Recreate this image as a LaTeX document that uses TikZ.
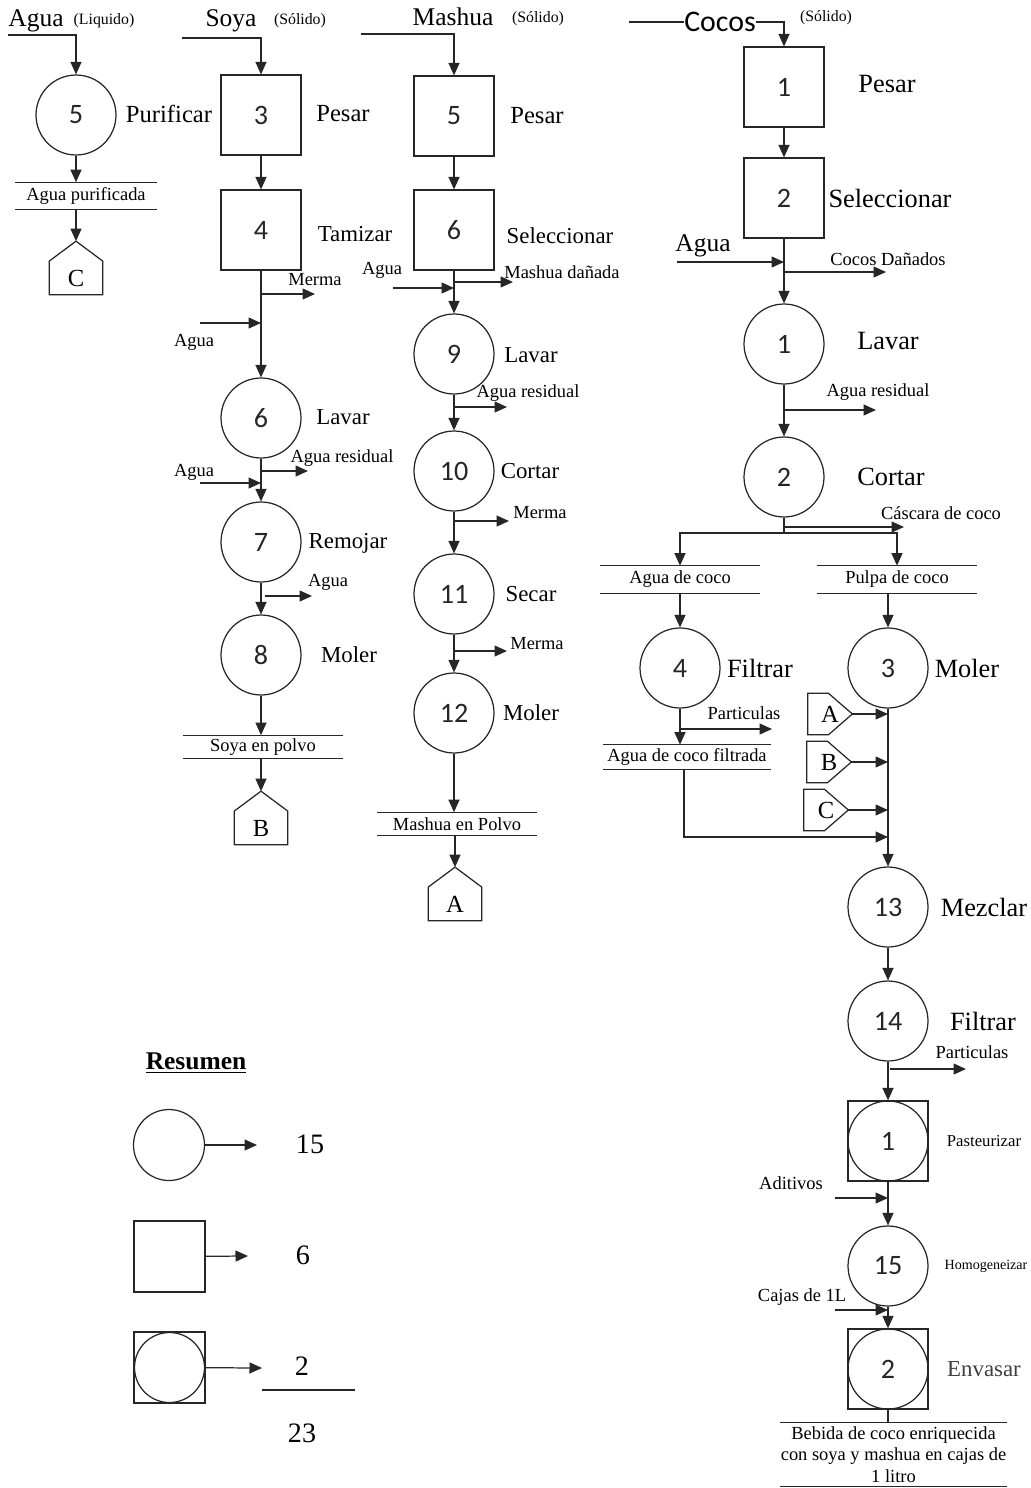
\documentclass[tikz,border=0pt]{standalone}
\usepackage{fontspec}
\setmainfont{Liberation Serif}
\newfontfamily\numfont{Carlito}
\usetikzlibrary{arrows.meta}
\tikzset{
	>={Triangle[length=2.5mm,width=2.2mm]},
	wire/.style={black!85, line width=0.7pt},
	flow/.style={wire, ->},
	op/.style={wire, draw, circle, minimum size=1.6cm, inner sep=0pt, font=\numfont\fontsize{16}{18}\selectfont},
	insp/.style={wire, draw, rectangle, minimum size=1.6cm, inner sep=0pt, font=\numfont\fontsize{16}{18}\selectfont},
	term/.style={inner sep=0pt, minimum width=1.06cm, minimum height=0.66cm, font=\fontsize{14}{16}\selectfont},
	termin/.style={term, minimum width=0.88cm, minimum height=0.82cm},
	stock/.style={inner sep=0pt, font=\fontsize{10.5}{12.5}\selectfont},
	task/.style={font=\fontsize{13}{15}\selectfont},
	bigtask/.style={font=\fontsize{15}{17}\selectfont},
	note/.style={font=\fontsize{10.5}{12}\selectfont},
	head/.style={font=\fontsize{14.5}{16}\selectfont},
	matter/.style={font=\fontsize{9}{11}\selectfont},
	legnum/.style={font=\fontsize{16}{18}\selectfont}
}

\begin{document}
\begin{tikzpicture}[x=0.02cm, y=-0.02cm]
	\useasboundingbox (0,0) rectangle (1031,1488);
	
	% Agua
	\node[head] (agua) at (36,21) {Agua};
	\node[matter] (aguast) at (104,21) {(Liquido)};
	\node[op] (a5) at (76,115) {5};
	\node[task, font=\fontsize{14}{16}\selectfont] (a5t) at (169,114) {Purificar};
	\node[stock, minimum width=2.82cm, minimum height=0.54cm] (agp) at (86,196) {Agua purificada};
	\node[term] (hc) at (76,278) {C};
	\coordinate (aguain) at (8,35);
	\draw[flow] (aguain) -| (a5.north);
	\draw[flow] (a5.south) -- (a5.south |- agp.north);
	\draw[wire] (agp.north west) -- (agp.north east);
	\draw[wire] (agp.south west) -- (agp.south east);
	\draw[flow] (a5.south |- agp.south) -- ([yshift=0.4cm]hc.north);
	\draw[wire] (hc.south west) -- (hc.north west) -- ([yshift=0.4cm]hc.north) -- (hc.north east) -- (hc.south east) -- cycle;
	
	% Soya
	\node[head] (soya) at (231,21) {Soya};
	\node[matter] (soyast) at (300,21) {(Sólido)};
	\node[insp] (s3) at (261,115) {3};
	\node[task, font=\fontsize{14}{16}\selectfont] (s3t) at (343,114) {Pesar};
	\node[insp] (s4) at (261,230) {4};
	\node[task] (s4t) at (355,234) {Tamizar};
	\node[op] (s6) at (261,418) {6};
	\node[task] (s6t) at (343,417) {Lavar};
	\node[op] (s7) at (261,542) {7};
	\node[task] (s7t) at (348,543) {Remojar};
	\node[op] (s8) at (261,655) {8};
	\node[task] (s8t) at (349,655) {Moler};
	\node[stock, minimum width=3.2cm, minimum height=0.46cm] (sep) at (263,747) {Soya en polvo};
	\node[term] (hb) at (261,828) {B};
	\coordinate (soyain) at (182,38);
	\draw[flow] (soyain) -| (s3.north);
	\draw[flow] (s3) -- (s4);
	\draw[flow] (s4) -- (s6);
	\coordinate (s4m) at (261,294);
	\coordinate (s4me) at (315,294);
	\draw[flow] (s4m) -- (s4me);
	\node[note] (s4mt) at (315,280) {Merma};
	\coordinate (s6a) at (200,323);
	\draw[flow] (s6a) -- (s6a -| s4);
	\node[note] (s6at) at (194,342) {Agua};
	\draw[flow] (s6) -- (s7);
	\coordinate (s6r) at (261,471);
	\coordinate (s6re) at (308,471);
	\draw[flow] (s6r) -- (s6re);
	\node[note] (s6rt) at (342,458) {Agua residual};
	\coordinate (s7a) at (200,483);
	\draw[flow] (s7a) -- (s7a -| s6);
	\node[note] (s7at) at (194,472) {Agua};
	\draw[flow] (s7) -- (s8);
	\coordinate (s7r) at (265,596);
	\coordinate (s7re) at (312,596);
	\draw[flow] (s7r) -- (s7re);
	\node[note] (s7rt) at (328,582) {Agua};
	\draw[flow] (s8) -- (s8 |- sep.north);
	\draw[wire] (sep.north west) -- (sep.north east);
	\draw[wire] (sep.south west) -- (sep.south east);
	\draw[flow] (s8 |- sep.south) -- ([yshift=0.4cm]hb.north);
	\draw[wire] (hb.south west) -- (hb.north west) -- ([yshift=0.4cm]hb.north) -- (hb.north east) -- (hb.south east) -- cycle;
	
	% Mashua
	\node[head] (mashua) at (453,17) {Mashua};
	\node[matter] (mashuast) at (538,19) {(Sólido)};
	\node[insp] (m5) at (454,116) {5};
	\node[task, font=\fontsize{14}{16}\selectfont] (m5t) at (537,116) {Pesar};
	\node[insp] (m6) at (454,230) {6};
	\node[task] (m6t) at (560,236) {Seleccionar};
	\node[op] (m9) at (454,354) {9};
	\node[task] (m9t) at (531,355) {Lavar};
	\node[op] (m10) at (454,471) {10};
	\node[task] (m10t) at (530,471) {Cortar};
	\node[op] (m11) at (454,594) {11};
	\node[task] (m11t) at (531,594) {Secar};
	\node[op] (m12) at (454,713) {12};
	\node[task] (m12t) at (531,713) {Moler};
	\node[stock, minimum width=3.18cm, minimum height=0.46cm] (mep) at (457,824) {Mashua en Polvo};
	\node[term] (ha) at (455,904) {A};
	\coordinate (mashuain) at (361,34);
	\draw[flow] (mashuain) -| (m5.north);
	\draw[flow] (m5) -- (m6);
	\draw[flow] (m6) -- (m9);
	\coordinate (m6d) at (454,282);
	\coordinate (m6de) at (513,282);
	\draw[flow] (m6d) -- (m6de);
	\node[note] (m6dt) at (562,272) {Mashua dañada};
	\coordinate (m9a) at (393,288);
	\draw[flow] (m9a) -- (m9a -| m6);
	\node[note] (m9at) at (382,270) {Agua};
	\draw[flow] (m9) -- (m10);
	\coordinate (m9r) at (454,407);
	\coordinate (m9re) at (507,407);
	\draw[flow] (m9r) -- (m9re);
	\node[note] (m9rt) at (528,393) {Agua residual};
	\draw[flow] (m10) -- (m11);
	\coordinate (m10m) at (454,521);
	\coordinate (m10me) at (509,521);
	\draw[flow] (m10m) -- (m10me);
	\node[note] (m10mt) at (540,513) {Merma};
	\draw[flow] (m11) -- (m12);
	\coordinate (m11m) at (454,651);
	\coordinate (m11me) at (507,651);
	\draw[flow] (m11m) -- (m11me);
	\node[note] (m11mt) at (537,644) {Merma};
	\draw[flow] (m12) -- (m12 |- mep.north);
	\draw[wire] (mep.north west) -- (mep.north east);
	\draw[wire] (mep.south west) -- (mep.south east);
	\draw[flow] (ha |- mep.south) -- ([yshift=0.4cm]ha.north);
	\draw[wire] (ha.south west) -- (ha.north west) -- ([yshift=0.4cm]ha.north) -- (ha.north east) -- (ha.south east) -- cycle;
	
	% Cocos
	\node[inner sep=0pt, font=\numfont\fontsize{17}{19}\selectfont] (cocos) at (720,22) {Cocos};
	\node[matter] (cocosst) at (826,18) {(Sólido)};
	\node[insp] (c1) at (784,87) {1};
	\node[bigtask] (c1t) at (887,84) {Pesar};
	\node[insp] (c2) at (784,198) {2};
	\node[bigtask] (c2t) at (890,198) {Seleccionar};
	\node[head] (caguat) at (703,246) {Agua};
	\node[op] (c1l) at (784,344) {1};
	\node[bigtask] (c1lt) at (888,341) {Lavar};
	\node[op] (c2c) at (784,477) {2};
	\node[bigtask] (c2ct) at (891,477) {Cortar};
	\node[stock, minimum width=3.18cm, minimum height=0.54cm] (adc) at (680,579.5) {Agua de coco};
	\node[stock, minimum width=3.18cm, minimum height=0.54cm] (pdc) at (897,579.5) {Pulpa de coco};
	\node[op] (c4) at (680,668) {4};
	\node[bigtask] (c4t) at (760,668) {Filtrar};
	\node[op] (c3) at (888,668) {3};
	\node[bigtask] (c3t) at (967,668) {Moler};
	\node[stock, minimum width=3.34cm, minimum height=0.48cm] (acf) at (687,757) {Agua de coco filtrada};
	\node[termin] (inA) at (830,714) {A};
	\node[termin] (inB) at (829,762) {B};
	\node[termin] (inC) at (826,810) {C};
	\node[op] (c13) at (888,907) {13};
	\node[bigtask] (c13t) at (984,907) {Mezclar};
	\node[op] (c14) at (888,1021) {14};
	\node[bigtask] (c14t) at (983,1021) {Filtrar};
	\node[insp] (c1pb) at (888,1141) {};
	\node[op] (c1p) at (888,1141) {1};
	\node[font=\fontsize{9.5}{11}\selectfont] (c1pt) at (984,1141) {Pasteurizar};
	\node[op] (c15) at (888,1266) {15};
	\node[font=\fontsize{8}{10}\selectfont] (c15t) at (986,1266) {Homogeneizar};
	\node[insp] (c2eb) at (888,1369) {};
	\node[op] (c2e) at (888,1369) {2};
	\node[task, black!75] (c2et) at (984,1369) {Envasar};
	\node[stock, minimum width=4.42cm, minimum height=1.26cm, align=center, font=\fontsize{10.5}{12.2}\selectfont] (beb) at (893.5,1454.5) {Bebida de coco enriquecida\\con soya y mashua en cajas de\\1 litro};
	
	\coordinate (cocosin) at (629,22);
	\draw[wire] (cocosin) -- (cocos.west);
	\draw[flow] (cocos.east) -| (c1.north);
	\draw[flow] (c1) -- (c2);
	\draw[flow] (c2) -- (c1l);
	\coordinate (cagua) at (677,262);
	\draw[flow] (cagua) -- (cagua -| c2);
	\coordinate (cdan) at (784,272);
	\coordinate (cdane) at (886,272);
	\draw[flow] (cdan) -- (cdane);
	\node[note] (cdant) at (888,259) {Cocos Dañados};
	\draw[flow] (c1l) -- (c2c);
	\coordinate (c1r) at (784,410);
	\coordinate (c1re) at (876,410);
	\draw[flow] (c1r) -- (c1re);
	\node[note] (c1rt) at (878,392) {Agua residual};
	\coordinate (split) at (784,533);
	\draw[wire] (c2c.south) -- (split);
	\coordinate (casc) at (784,527);
	\coordinate (casce) at (904,527);
	\draw[flow] (casc) -- (casce);
	\node[note] (casct) at (941,513) {Cáscara de coco};
	\draw[flow] (split) -| (adc.north);
	\draw[flow] (split) -| (pdc.north);
	\foreach \s in {adc,pdc,acf} {
		\draw[wire] (\s.north west) -- (\s.north east);
		\draw[wire] (\s.south west) -- (\s.south east);
	}
	\draw[flow] (adc.south -| c4) -- (c4.north);
	\draw[flow] (pdc.south -| c3) -- (c3.north);
	\draw[flow] (c4.south) -- (c4.south |- acf.north);
	\coordinate (c4p) at (680,729);
	\coordinate (c4pe) at (772,729);
	\draw[flow] (c4p) -- (c4pe);
	\node[note] (c4pt) at (744,713) {Particulas};
	\coordinate (mixin) at (888,837);
	\draw[flow] ([xshift=-0.06cm]acf.south) |- (mixin);
	\draw[flow] (c3) -- (c13);
	\foreach \h in {inA,inB,inC} {
		\draw[wire] (\h.south west) -- (\h.north west) -- ([xshift=-0.48cm]\h.north east) -- (\h.east) -- ([xshift=-0.48cm]\h.south east) -- cycle;
		\draw[flow] (\h.east) -- (\h.east -| c3);
	}
	\draw[flow] (c13) -- (c14);
	\draw[flow] (c14) -- (c1pb);
	\coordinate (c14p) at (890,1069);
	\coordinate (c14pe) at (966,1069);
	\draw[flow] (c14p) -- (c14pe);
	\node[note] (c14pt) at (972,1052) {Particulas};
	\draw[flow] (c1pb) -- (c15);
	\coordinate (adit) at (835,1198);
	\draw[flow] (adit) -- (adit -| c15);
	\node[note] (aditt) at (791,1183) {Aditivos};
	\draw[flow] (c15) -- (c2eb);
	\coordinate (cajas) at (835,1310);
	\draw[flow] (cajas) -- (cajas -| c15);
	\node[note] (cajast) at (802,1297) {Cajas de 1L};
	\draw[wire] (c2eb.south) -- (c2eb.south |- beb.north);
	\draw[wire] (beb.north west) -- (beb.north east);
	\draw[wire] (beb.south west) -- (beb.south east);
	
	% Resumen
	\node[font=\bfseries\fontsize{14.5}{16}\selectfont] (res) at (196,1063) {\underline{Resumen}};
	\node[op, minimum size=1.42cm] (lop) at (169,1145) {};
	\coordinate (lope) at (257,1145);
	\draw[flow] (lop) -- (lope);
	\node[legnum] (lopn) at (310,1144) {15};
	\node[insp, minimum size=1.42cm] (lin) at (169.5,1256.5) {};
	\coordinate (line) at (248,1256);
	\draw[flow] (lin) -- (line);
	\node[legnum] (linn) at (303,1255) {6};
	\node[insp, minimum size=1.42cm] (lcb) at (169.5,1367.5) {};
	\node[op, minimum size=1.4cm] (lc) at (169.5,1367.5) {};
	\coordinate (lce) at (262,1368);
	\draw[flow] (lcb) -- (lce);
	\node[legnum] (lcn) at (302,1366) {2};
	\coordinate (sumL) at (262,1390);
	\coordinate (sumR) at (355,1390);
	\draw[wire] (sumL) -- (sumR);
	\node[legnum] (total) at (302,1433) {23};
	
\end{tikzpicture}
\end{document}
